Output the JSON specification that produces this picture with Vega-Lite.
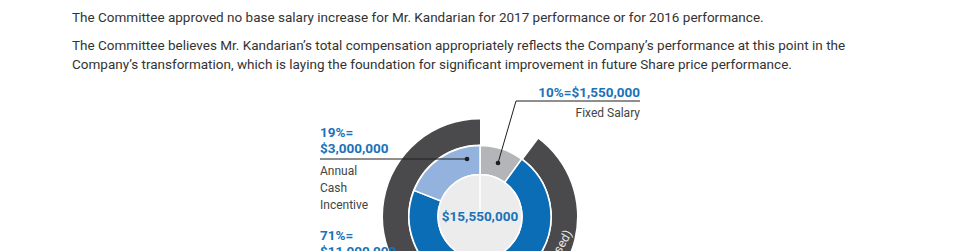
{
  "$schema": "https://vega.github.io/schema/vega-lite/v6.json",
  "width": 960,
  "height": 251,
  "padding": 0,
  "autosize": {"type": "none"},
  "background": "white",
  "config": {"view": {"stroke": null}, "axis": {"disable": true}},
  "datasets": {
    "body": [
      {"t": "The Committee approved no base salary increase for Mr. Kandarian for 2017 performance or for 2016 performance.", "x": 72, "y": 22},
      {"t": "The Committee believes Mr. Kandarian\u2019s total compensation appropriately reflects the Company\u2019s performance at this point in the", "x": 72, "y": 50},
      {"t": "Company\u2019s transformation, which is laying the foundation for significant improvement in future Share price performance.", "x": 72, "y": 69}
    ],
    "outer": [
      {"part": "Realized", "a0": 200, "a1": 360, "cx": 480, "cy": 216.5},
      {"part": "Performance-based", "a0": 37, "a1": 170, "cx": 480, "cy": 216.5}
    ],
    "pie": [
      {"part": "Fixed Salary", "a0": 0, "a1": 36, "cx": 480, "cy": 216.5},
      {"part": "Long-Term Incentive", "a0": 36, "a1": 291.6, "cx": 480, "cy": 216.5},
      {"part": "Annual Cash Incentive", "a0": 291.6, "a1": 360, "cx": 480, "cy": 216.5}
    ],
    "center": [
      {"part": "Total", "a0": 0, "a1": 360, "cx": 480, "cy": 216.5, "t": "$15,550,000"}
    ],
    "blue": [
      {"t": "10%=$1,550,000", "x": 640, "y": 97, "al": "right"},
      {"t": "19%=", "x": 320, "y": 137, "al": "left"},
      {"t": "$3,000,000", "x": 320, "y": 153, "al": "left"},
      {"t": "71%=", "x": 320, "y": 240, "al": "left"},
      {"t": "$11,000,000", "x": 320, "y": 256, "al": "left"}
    ],
    "desc": [
      {"t": "Fixed Salary", "x": 640, "y": 117, "al": "right"},
      {"t": "Annual", "x": 320, "y": 175, "al": "left"},
      {"t": "Cash", "x": 320, "y": 192, "al": "left"},
      {"t": "Incentive", "x": 320, "y": 209, "al": "left"}
    ],
    "leaders": [
      {"x": 320, "y": 159, "x2": 467, "y2": 159},
      {"x": 498, "y": 163, "x2": 516, "y2": 101},
      {"x": 516, "y": 101, "x2": 640, "y2": 101}
    ],
    "dots": [
      {"x": 467, "y": 159},
      {"x": 498, "y": 163}
    ],
    "arclabel": [
      {"t": "(performance-based)", "x": 569, "y": 231}
    ]
  },
  "layer": [
    {
      "data": {"name": "outer"},
      "mark": {"type": "arc", "innerRadius": 72, "outerRadius": 97, "fill": "#4a4a4c"},
      "encoding": {
        "x": {"field": "cx", "type": "quantitative", "scale": {"domain": [0, 960], "zero": false, "nice": false}},
        "y": {"field": "cy", "type": "quantitative", "scale": {"domain": [0, 251], "reverse": true, "zero": false, "nice": false}},
        "theta": {"field": "a0", "type": "quantitative", "stack": null, "scale": {"domain": [0, 360], "range": [0, 6.283185307], "zero": false, "nice": false}},
        "theta2": {"field": "a1"}
      }
    },
    {
      "data": {"name": "pie"},
      "mark": {"type": "arc", "innerRadius": 42, "outerRadius": 71, "stroke": "white", "strokeWidth": 1.5},
      "encoding": {
        "x": {"field": "cx", "type": "quantitative"},
        "y": {"field": "cy", "type": "quantitative"},
        "theta": {"field": "a0", "type": "quantitative", "stack": null},
        "theta2": {"field": "a1"},
        "color": {"field": "part", "type": "nominal", "legend": null,
          "scale": {"domain": ["Fixed Salary", "Long-Term Incentive", "Annual Cash Incentive"], "range": ["#b4b5b8", "#0a6db5", "#93b3de"]}}
      }
    },
    {
      "data": {"name": "center"},
      "mark": {"type": "arc", "innerRadius": 0, "outerRadius": 42, "fill": "#ececec", "stroke": "white", "strokeWidth": 1.5},
      "encoding": {
        "x": {"field": "cx", "type": "quantitative"},
        "y": {"field": "cy", "type": "quantitative"},
        "theta": {"field": "a0", "type": "quantitative", "stack": null},
        "theta2": {"field": "a1"}
      }
    },
    {
      "data": {"name": "center"},
      "mark": {"type": "text", "font": "Roboto", "fontSize": 13.5, "fontWeight": "bold", "fill": "#1a72b9", "align": "center", "baseline": "middle"},
      "encoding": {
        "x": {"field": "cx", "type": "quantitative"},
        "y": {"field": "cy", "type": "quantitative"},
        "text": {"field": "t"}
      }
    },
    {
      "data": {"name": "body"},
      "mark": {"type": "text", "font": "Roboto", "fontSize": 13.5, "fill": "#333333", "align": "left", "baseline": "alphabetic"},
      "encoding": {
        "x": {"field": "x", "type": "quantitative"},
        "y": {"field": "y", "type": "quantitative"},
        "text": {"field": "t"}
      }
    },
    {
      "data": {"name": "blue"},
      "transform": [{"filter": "datum.al === 'left'"}],
      "mark": {"type": "text", "font": "Roboto", "fontSize": 13.5, "fontWeight": "bold", "fill": "#1a72b9", "align": "left", "baseline": "alphabetic"},
      "encoding": {
        "x": {"field": "x", "type": "quantitative"},
        "y": {"field": "y", "type": "quantitative"},
        "text": {"field": "t"}
      }
    },
    {
      "data": {"name": "blue"},
      "transform": [{"filter": "datum.al === 'right'"}],
      "mark": {"type": "text", "font": "Roboto", "fontSize": 13.5, "fontWeight": "bold", "fill": "#1a72b9", "align": "right", "baseline": "alphabetic"},
      "encoding": {
        "x": {"field": "x", "type": "quantitative"},
        "y": {"field": "y", "type": "quantitative"},
        "text": {"field": "t"}
      }
    },
    {
      "data": {"name": "desc"},
      "transform": [{"filter": "datum.al === 'left'"}],
      "mark": {"type": "text", "font": "Roboto", "fontSize": 12, "fill": "#444444", "align": "left", "baseline": "alphabetic"},
      "encoding": {
        "x": {"field": "x", "type": "quantitative"},
        "y": {"field": "y", "type": "quantitative"},
        "text": {"field": "t"}
      }
    },
    {
      "data": {"name": "desc"},
      "transform": [{"filter": "datum.al === 'right'"}],
      "mark": {"type": "text", "font": "Roboto", "fontSize": 12, "fill": "#444444", "align": "right", "baseline": "alphabetic"},
      "encoding": {
        "x": {"field": "x", "type": "quantitative"},
        "y": {"field": "y", "type": "quantitative"},
        "text": {"field": "t"}
      }
    },
    {
      "data": {"name": "leaders"},
      "mark": {"type": "rule", "stroke": "#1e1e1e", "strokeWidth": 1},
      "encoding": {
        "x": {"field": "x", "type": "quantitative"},
        "y": {"field": "y", "type": "quantitative"},
        "x2": {"field": "x2"},
        "y2": {"field": "y2"}
      }
    },
    {
      "data": {"name": "dots"},
      "mark": {"type": "point", "filled": true, "size": 22, "fill": "#1e1e1e", "opacity": 1},
      "encoding": {
        "x": {"field": "x", "type": "quantitative"},
        "y": {"field": "y", "type": "quantitative"}
      }
    },
    {
      "data": {"name": "arclabel"},
      "mark": {"type": "text", "font": "Roboto", "fontSize": 12.5, "fill": "#e6e6e6", "align": "right", "baseline": "middle", "angle": -60},
      "encoding": {
        "x": {"field": "x", "type": "quantitative"},
        "y": {"field": "y", "type": "quantitative"},
        "text": {"field": "t"}
      }
    }
  ]
}
